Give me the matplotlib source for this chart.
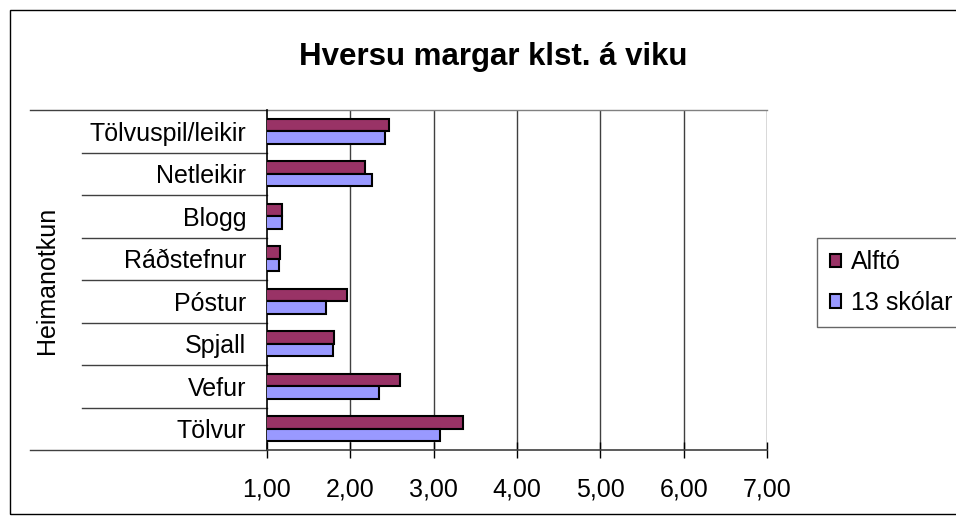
import numpy as np
import matplotlib.pyplot as plt
from matplotlib.patches import Rectangle

plt.rcParams['font.family'] = ['Liberation Sans', 'DejaVu Sans']

# categories from bottom to top
categories = ['Tölvur', 'Vefur', 'Spjall', 'Póstur', 'Ráðstefnur', 'Blogg',
              'Netleikir', 'Tölvuspil/leikir']
alfto = [3.35, 2.60, 1.80, 1.96, 1.16, 1.18, 2.17, 2.46]
skolar13 = [3.08, 2.34, 1.79, 1.71, 1.14, 1.18, 2.26, 2.41]
series_names = ['Alftó', '13 skólar']
xticks = [1, 2, 3, 4, 5, 6, 7]

W, H = 956, 524
fig = plt.figure(figsize=(W / 100, H / 100), dpi=100)
fig.patch.set_facecolor('white')

# outer chart border
fig.patches.append(Rectangle((10 / W, 10 / H), 1.2, 1 - 20 / H,
                             transform=fig.transFigure, fill=False,
                             edgecolor='black', linewidth=1.0))

left, right, top, bottom = 267, 767, 110, 450
ax = fig.add_axes([left / W, 1 - bottom / H, (right - left) / W, (bottom - top) / H])

y = np.arange(len(categories))
h = 0.29
ax.barh(y + h / 2, alfto, height=h, left=0, color='#993366',
        edgecolor='black', linewidth=1.5, label=series_names[0], zorder=3)
ax.barh(y - h / 2, skolar13, height=h, left=0, color='#9999FF',
        edgecolor='black', linewidth=1.5, label=series_names[1], zorder=3)

ax.set_xlim(1, 7)
ax.set_ylim(-0.5, len(categories) - 0.5)

fs = 18
ax.set_xticks(xticks)
ax.set_xticklabels([f'{v:.2f}'.replace('.', ',') for v in xticks], fontsize=fs)
ax.tick_params(axis='x', direction='inout', length=12, width=1, pad=14)
ax.set_yticks(y)
ax.set_yticklabels(categories, fontsize=fs)
ax.tick_params(axis='y', length=0, pad=15)

for v in xticks[1:]:
    ax.axvline(v, color='#404040', linewidth=1.0, zorder=1)

for s in ['top', 'right']:
    ax.spines[s].set_visible(False)
ax.spines['left'].set_linewidth(1.2)
ax.spines['bottom'].set_linewidth(1.2)
ax.spines['bottom'].set_color('#404040')

# category separators extending into label area
tr = ax.get_yaxis_transform()
x_far = (30 - left) / (right - left)
x_near = (82 - left) / (right - left)
for k in range(len(categories) + 1):
    yy = k - 0.5
    x0 = x_far if k in (0, len(categories)) else x_near
    ax.plot([x0, 0], [yy, yy], transform=tr, color='#404040', linewidth=1.0,
            clip_on=False)
ax.plot([0, 1], [len(categories) - 0.5] * 2, transform=tr, color='#808080',
        linewidth=1.0, clip_on=False)

fig.text(47 / W, 1 - 280 / H, 'Heimanotkun', rotation=90, fontsize=fs,
         ha='center', va='center')
fig.text(493 / W, 1 - 57 / H, 'Hversu margar klst. á viku', fontsize=22.5,
         fontweight='bold', ha='center', va='center')

leg = fig.legend(loc='upper left', bbox_to_anchor=(817 / W, 1 - 238 / H),
                 fontsize=fs, frameon=True, fancybox=False, edgecolor='#404040',
                 handlelength=0.45, handleheight=0.45, handletextpad=0.4,
                 borderpad=0.5, labelspacing=0.65, borderaxespad=0)
leg.get_frame().set_linewidth(1.0)

fig.savefig('out.png', dpi=100)
